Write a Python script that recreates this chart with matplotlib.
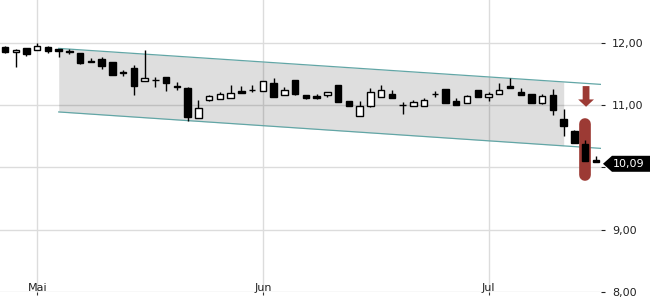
import matplotlib
matplotlib.use("Agg")
import matplotlib.pyplot as plt
from matplotlib.patches import Polygon
import numpy as np

# daily candles, index = trading day
opens = [11.925, 11.845, 11.92, 11.877, 11.925, 11.904, 11.872, 11.829, 11.712, 11.744,
         11.696, 11.53, 11.60, 11.38, 11.40, 11.456, 11.30, 11.275, 10.795, 11.08,
         11.105, 11.12, 11.22, 11.245, 11.232, 11.36, 11.163, 11.408, 11.168, 11.152,
         11.163, 11.328, 11.072, 10.827, 10.992, 11.136, 11.184, 11.005, 10.987, 10.987,
         11.186, 11.264, 11.072, 11.029, 11.248, 11.125, 11.173, 11.312, 11.216, 11.184,
         11.029, 11.168, 10.779, 10.592, 10.368, 10.125]
highs = [11.947, 11.904, 11.92, 12.0, 11.95, 11.904, 11.9, 11.829, 11.76, 11.776,
         11.696, 11.568, 11.648, 11.888, 11.445, 11.456, 11.37, 11.296, 11.088, 11.157,
         11.21, 11.328, 11.30, 11.32, 11.392, 11.43, 11.285, 11.408, 11.168, 11.179,
         11.216, 11.328, 11.072, 11.06, 11.275, 11.328, 11.243, 11.056, 11.083, 11.109,
         11.232, 11.264, 11.115, 11.168, 11.248, 11.205, 11.355, 11.44, 11.275, 11.184,
         11.184, 11.259, 10.939, 10.603, 10.432, 10.176]
lows = [11.84, 11.616, 11.787, 11.877, 11.84, 11.765, 11.813, 11.66, 11.69, 11.584,
        11.477, 11.467, 11.157, 11.38, 11.285, 11.232, 11.237, 10.75, 10.795, 11.061,
        11.105, 11.12, 11.195, 11.205, 11.232, 11.13, 11.163, 11.157, 11.093, 11.099,
        11.13, 11.05, 10.987, 10.827, 10.976, 11.136, 11.115, 10.859, 10.987, 10.987,
        11.125, 11.03, 10.997, 11.029, 11.125, 11.072, 11.173, 11.269, 11.157, 11.029,
        11.013, 10.837, 10.501, 10.389, 10.101, 10.09]
closes = [11.86, 11.888, 11.82, 11.947, 11.867, 11.867, 11.845, 11.68, 11.69, 11.627,
          11.477, 11.51, 11.30, 11.44, 11.40, 11.35, 11.29, 10.805, 10.955, 11.14,
          11.18, 11.19, 11.195, 11.24, 11.392, 11.13, 11.248, 11.173, 11.115, 11.12,
          11.216, 11.05, 10.987, 10.992, 11.211, 11.243, 11.115, 11.0, 11.05, 11.083,
          11.182, 11.03, 10.997, 11.147, 11.125, 11.184, 11.243, 11.269, 11.157, 11.029,
          11.152, 10.917, 10.661, 10.389, 10.101, 10.09]

month_idx = [3, 24, 45]
month_labels = ["Mai", "Jun", "Jul"]
y_ticks = [8, 9, 10, 11, 12]

# trend channel
channel_x = [5, 55.5]
channel_upper = [11.91, 11.332]
channel_lower = [10.89, 10.305]
channel_fill_end = 52

signal_idx = 54
last_price = 10.09

red = "#9c3a34"
grid_c = "#dcdcdc"

fig = plt.figure(figsize=(6.5, 3), dpi=100)
ax = fig.add_axes([0, 8 / 300, 601 / 650, 292 / 300])
ax.set_xlim(-0.465, 55.47)
ax.set_ylim(8, 12.687)
for s in ax.spines.values():
    s.set_visible(False)

# grid
for y in y_ticks:
    ax.axhline(y, color=grid_c, lw=1, zorder=0)
for x in month_idx:
    ax.axvline(x, color=grid_c, lw=1, zorder=0)

# channel
fx = np.array([channel_x[0], channel_fill_end])
fu = np.interp(fx, channel_x, channel_upper)
fl = np.interp(fx, channel_x, channel_lower)
ax.fill_between(fx, fl, fu, color="black", alpha=0.13, lw=0, zorder=1)
ax.plot(channel_x, channel_upper, color="#62a6a6", lw=0.9, zorder=2)
ax.plot(channel_x, channel_lower, color="#62a6a6", lw=0.9, zorder=2)

# signal marker
ax.plot([signal_idx, signal_idx], [9.874, 10.693], color=red, lw=8.4,
        solid_capstyle="round", zorder=2.5)
ax.arrow(signal_idx + 0.08, 11.305, 0, -0.332, width=0.63, head_width=1.47,
         head_length=0.118, length_includes_head=True, color=red, lw=0, zorder=2.5)

# candles
for i in range(len(opens)):
    o, h, l, c = opens[i], highs[i], lows[i], closes[i]
    ax.vlines(i, l, h, color="black", lw=1, zorder=3)
    fc = "white" if c > o else "black"
    ax.bar(i, max(abs(c - o), 0.004), bottom=min(o, c), width=0.6,
           facecolor=fc, edgecolor="black", lw=1, zorder=4)

# x labels inside the plot
ax.set_xticks(month_idx)
ax.set_xticklabels([])
ax.tick_params(axis="x", direction="out", length=2.5, width=0.8, color="#333333")
for x, lab in zip(month_idx, month_labels):
    ax.annotate(lab, xy=(x, 0), xycoords=("data", "axes fraction"), xytext=(0, 1),
                textcoords="offset points", ha="center", va="baseline",
                fontsize=8, color="#222222")

# y axis on the right; the 10,00 label sits under the price tag
ax.yaxis.tick_right()
ax.set_yticks(y_ticks)
ax.set_yticklabels(["" if v == 10 else f"{v:.2f}".replace(".", ",") for v in y_ticks])
ax.tick_params(axis="y", direction="out", length=3, width=0.8, pad=5,
               labelsize=8, colors="#222222")

# last price tag
fig.canvas.draw()
yc = ax.transData.transform((0, last_price))[1] - 2
x0 = 603
tag = Polygon([[x0, yc], [x0 + 9, yc + 8], [650, yc + 8], [650, yc - 8], [x0 + 9, yc - 8]],
              closed=True, transform=None, facecolor="black", edgecolor="none", zorder=5)
fig.patches.append(tag)
fig.text(613 / 650, yc / 300, f"{last_price:.2f}".replace(".", ","), color="white",
         fontsize=8, ha="left", va="center", zorder=6)

fig.savefig("out.png", dpi=100)
